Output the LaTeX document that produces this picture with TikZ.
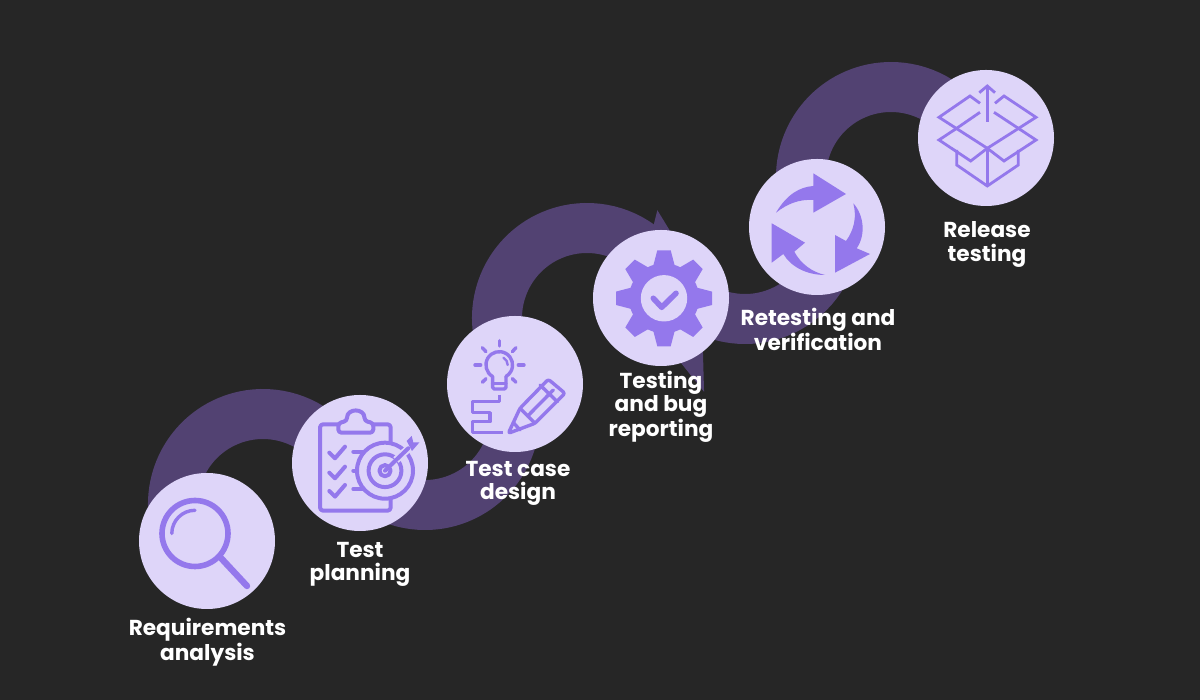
\documentclass[tikz,border=0pt]{standalone}
\usepackage{fontspec}
\setmainfont{Poppins}
\usepackage{tikz}
\usetikzlibrary{calc}
\usetikzlibrary{backgrounds}
\definecolor{slate}{HTML}{262626}
\definecolor{plum}{HTML}{524272}
\definecolor{lilac}{HTML}{DED5F9}
\definecolor{violet}{HTML}{9478EC}
\tikzset{stage/.style={circle,fill=lilac,inner sep=0pt,minimum size=3.4cm}}
\tikzset{band/.style={draw=plum,line width=12.5mm}}
\tikzset{lbl/.style={text=white,align=center,font=\fontsize{15.4pt}{16.4pt}\selectfont\bfseries,inner sep=0pt}}
\tikzset{glyph/.style={draw=violet,line width=1mm,line cap=round,line join=round}}
\def\bandr{2.25cm}

\begin{document}
\begin{tikzpicture}[x=0.25mm,y=0.25mm]

\node[stage] (req) at (207,159) {};
\node[stage] (plan) at (360,237) {};
\node[stage] (design) at (515,316) {};
\node[stage] (bug) at (661,402) {};
\node[stage] (retest) at (817,473) {};
\node[stage] (release) at (986,562) {};

\node[lbl] (reqL) at (207.5,58) {Requirements\\analysis};
\node[lbl] (planL) at (360,135.5) {Test\\planning};
\node[lbl] (designL) at (518,216.5) {Test case\\design};
\node[lbl] (bugL) at (661,293) {Testing\\and bug\\reporting};
\node[lbl] (retestL) at (818,370.5) {Retesting and\\verification};
\node[lbl] (releaseL) at (987,455.5) {Release\\testing};

\coordinate (hubA) at (263,196);
\coordinate (hubB) at (425,285);
\coordinate (hubC) at (587,382);
\coordinate (hubD) at (745,471);
\coordinate (hubE) at (891,523);

\begin{pgfonlayer}{background}
\fill[slate] (0,0) rectangle (1200,700);
\draw[band] (req.center) -- ($(hubA)+(200:\bandr)$) arc[start angle=200,end angle=0,radius=\bandr] -- (plan.center);
\draw[band] (plan.center) -- ($(hubB)+(210:\bandr)$) arc[start angle=210,end angle=360,radius=\bandr] -- (design.center);
\draw[band] (design.center) -- ($(hubC)+(200:\bandr)$) arc[start angle=200,end angle=0,radius=\bandr] -- (bug.center);
\draw[band] (bug.center) -- ($(hubD)+(210:\bandr)$) arc[start angle=210,end angle=360,radius=\bandr] -- (retest.center);
\draw[band] (retest.center) -- ($(hubE)+(200:\bandr)$) arc[start angle=200,end angle=0,radius=\bandr] -- (release.center);
\end{pgfonlayer}

% magnifier
\begin{scope}[shift={(req.center)},yscale=-1]
\draw[glyph,line width=1.4mm] (-12,-7.5) circle[radius=8.25mm];
\draw[glyph,line width=1.6mm] (13,16) -- (40,45);
\draw[glyph,line width=0.85mm] ($(-12,-7.5)+(180:5.8mm)$) arc[start angle=180,end angle=270,radius=5.8mm];
\end{scope}

% clipboard and target
\begin{scope}[shift={(plan.center)},yscale=-1]
\draw[glyph,rounded corners=0.8mm] (30.7,-19.7) -- (30.7,-38.7) -- (13.3,-38.7);
\draw[glyph,rounded corners=0.8mm] (-21.7,-38.7) -- (-40,-38.7) -- (-40,47.7) -- (30.7,47.7) -- (30.7,35.3);
\draw[glyph,rounded corners=0.8mm] (-21.7,-30.3) -- (-21.7,-40) -- (-13,-42) .. controls (-13,-55) and (4.5,-55) .. (4.5,-42) -- (13.3,-40) -- (13.3,-30.3) -- cycle;
\draw[glyph] (-30.7,-10.3) -- (-25,-4.7) -- (-15,-16.3);
\draw[glyph] (-30.7,9.7) -- (-25,15.3) -- (-15,3.7);
\draw[glyph] (-30.7,28) -- (-25,33.6) -- (-15,22);
\draw[glyph] (-6.7,-11.3) -- (3.3,-11.3);
\draw[glyph] (-6.7,7.7) -- (-1.7,7.7);
\draw[glyph] (-6.7,26) -- (3.3,26);
\draw[glyph,fill=lilac] (25,7.7) circle[radius=7mm];
\draw[glyph] (25,7.7) circle[radius=4.1mm];
\draw[glyph] (25,7.7) circle[radius=1.4mm];
\draw[draw=lilac,line width=1.9mm] (36,-3) -- (50,-16);
\draw[glyph] (25,7.7) -- (48.3,-14.7);
\fill[violet] (46.7,-22) -- (51.7,-27) -- (53.3,-20.5) -- (59.3,-20.5) -- (52,-12) -- cycle;
\end{scope}

% bulb, route and pencil
\begin{scope}[shift={(design.center)},yscale=-1,glyph/.append style={line width=0.85mm}]
\draw[glyph] (-22.4,-7.5) arc[start angle=120,end angle=420,radius=3.33mm];
\draw[glyph,rounded corners=0.4mm] (-22.4,-7.5) -- (-22.4,5) -- (-9,5) -- (-9,-7.5);
\draw[glyph] (-22.4,-0.7) -- (-9,-0.7);
\draw[glyph,line width=0.6mm] ($(-15.7,-19)+(-60:2.1mm)$) arc[start angle=-60,end angle=0,radius=2.1mm];
\draw[glyph] (-15.7,-43.3) -- (-15.7,-38);
\draw[glyph] (-40,-19) -- (-34.3,-19);
\draw[glyph] (3.3,-19) -- (9,-19);
\draw[glyph] (-32.7,-36.3) -- (-29,-32.3);
\draw[glyph] (1,-36.3) -- (-2.7,-32.3);
\draw[glyph] (-32.7,-1.7) -- (-29,-5.3);
\draw[glyph] (1,-1.7) -- (-2.7,-5.3);
\draw[glyph,line cap=butt] (-15.7,11) -- (-15.7,17.7) -- (-42.7,17.7) -- (-42.7,28.7) -- (-25,28.7) -- (-25,37.7) -- (-42.7,37.7) -- (-42.7,48.3) -- (-11.7,48.3);
\draw[glyph,rounded corners=0.6mm] (-6.7,49.3) -- (5,24.3) -- (33.3,-4.7) -- (50,9.3) -- (20,39.3) -- cycle;
\draw[glyph] (5,24.3) -- (20,39.3);
\draw[glyph] (25,1) -- (42.3,17.7);
\draw[glyph] (12.7,32) -- (38.3,6);
\draw[glyph] (-1,39.3) -- (5,46);
\end{scope}

% gear
\begin{scope}[shift={(bug.center)},yscale=-1]
\foreach \a in {0,45,...,315}
  \fill[violet,rotate around={\a:(3,0.3)}] (-8,-31.2) -- (-3.7,-47.7) -- (9.7,-47.7) -- (14,-31.2) -- cycle;
\fill[violet] (3,0.3) circle[radius=8.75mm];
\fill[lilac] (3,0.3) circle[radius=5.8mm];
\draw[glyph,line width=1.4mm] (-7.7,0.3) -- (0.7,9.3) -- (15,-4.7);
\end{scope}

% recycling arrows
\begin{scope}[shift={(retest.center)},yscale=-1]
\fill[violet] (-41,-14.3) .. controls (-30,-33) and (-17,-40) .. (-3.7,-41) -- (-3.7,-53.7) -- (29,-33) -- (-3.7,-14.3) -- (-3.7,-27) .. controls (-18,-28) and (-30,-23) .. cycle;
\fill[violet] (36.3,-23.7) .. controls (47,-12) and (49,8) .. (39.7,21.3) -- (53,27) -- (18,45.7) -- (18,8) -- (29,14) .. controls (37,3) and (40,-10) .. cycle;
\fill[violet] (8,48) .. controls (-10,48) and (-26,40) .. (-33.7,27) -- (-45.3,35.7) -- (-45.3,-3.7) -- (-12,15.7) -- (-22.7,24.7) .. controls (-16,37) and (-5,45) .. cycle;
\end{scope}

% open box
\begin{scope}[shift={(release.center)},yscale=-1,glyph/.append style={line width=0.7mm,line cap=butt,line join=miter}]
\draw[glyph] (9,-34.7) -- (18,-42) -- (50,-20.7) -- (1.3,10.3) -- (-47,-20.7) -- (-16,-42) -- (-6,-34.7);
\draw[glyph] (-6,-25.7) -- (-29.3,-9.7) -- (-47,2) -- (-15.3,23) -- (1.3,10.3) -- (18,23) -- (50,2) -- (32.3,-9.7) -- (8,-25.7);
\draw[glyph] (-29.3,12) -- (-29.3,27) -- (1.3,48) -- (32.3,27) -- (32.3,12);
\draw[glyph] (1.3,10.3) -- (1.3,48);
\draw[glyph] (1.3,-16.3) -- (1.3,-52);
\draw[glyph] (-6.7,-45.3) -- (1.3,-52) -- (9,-45.3);
\end{scope}

\end{tikzpicture}
\end{document}
